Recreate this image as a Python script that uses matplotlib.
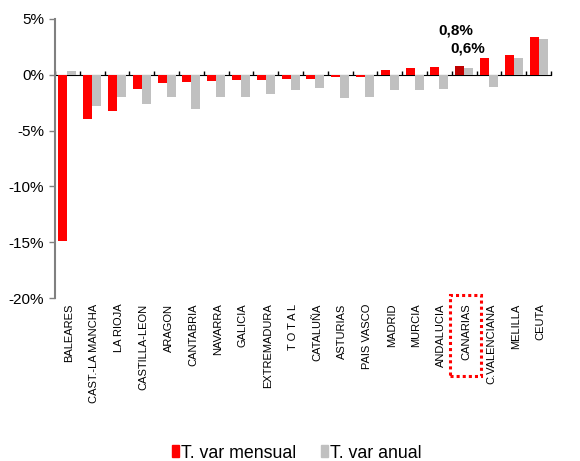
import matplotlib
matplotlib.use("Agg")
import matplotlib.pyplot as plt
import numpy as np
from matplotlib.patches import Rectangle, Patch
from matplotlib.transforms import ScaledTranslation

plt.rcParams['font.family'] = ['Liberation Sans', 'DejaVu Sans']

categories = ["BALEARES", "CAST.-LA MANCHA", "LA RIOJA", "CASTILLA-LEON", "ARAGON",
              "CANTABRIA", "NAVARRA", "GALICIA", "EXTREMADURA", "T O T A L",
              "CATALUÑA", "ASTURIAS", "PAIS VASCO", "MADRID", "MURCIA",
              "ANDALUCIA", "CANARIAS", "C.VALENCIANA", "MELILLA", "CEUTA"]
mensual = [-14.9, -4.0, -3.2, -1.3, -0.73, -0.67, -0.58, -0.5, -0.47, -0.4,
           -0.37, -0.22, -0.16, 0.43, 0.64, 0.73, 0.8, 1.5, 1.8, 3.42]
anual = [0.3, -2.8, -1.95, -2.6, -2.0, -3.1, -2.0, -2.0, -1.75, -1.4,
         -1.2, -2.1, -2.0, -1.36, -1.39, -1.3, 0.6, -1.06, 1.54, 3.18]
yticks = [5, 0, -5, -10, -15, -20]
highlight = "CANARIAS"

fig = plt.figure(figsize=(5.8, 4.61), dpi=100)
ax = fig.add_axes([55/580, 1-298/461, 496/580, 279/461])

x = np.arange(len(categories))
w = 0.36
hi = categories.index(highlight)
red_colors = ['#C00000' if i == hi else '#FF0000' for i in range(len(categories))]
ax.bar(x - w/2, mensual, w, color=red_colors, label='T. var mensual', zorder=2)
ax.bar(x + w/2, anual, w, color='#C0C0C0', label='T. var anual', zorder=2)

ax.set_xlim(-0.5, len(categories) - 0.5)
ax.set_ylim(-20, 5)
ax.set_yticks(yticks)
ax.set_yticklabels([f"{v}%" for v in yticks], fontsize=11)
ax.tick_params(axis='y', length=4, color='#808080', pad=4, width=1)

for s in ['top', 'right', 'bottom']:
    ax.spines[s].set_visible(False)
ax.spines['left'].set_color('#808080')
ax.spines['left'].set_linewidth(1.5)

ax.set_xticks(x)
ax.set_xticklabels(categories, rotation=90, fontsize=8, va='top', ha='center')
ax.tick_params(axis='x', length=0, pad=4)
shift = ScaledTranslation(2/100, 0, fig.dpi_scale_trans)
for lab in ax.get_xticklabels():
    lab.set_transform(lab.get_transform() + shift)

sec = ax.secondary_xaxis(0.8)
sec.set_xticks(np.arange(len(categories) + 1) - 0.5)
sec.set_xticklabels([])
sec.tick_params(axis='x', direction='out', length=3, color='black', width=1)
sec.spines['bottom'].set_color('black')
sec.spines['bottom'].set_linewidth(1.2)
sec.spines['bottom'].set_zorder(3)

ax.annotate("0,8%", xy=(hi - w/2, mensual[hi]), xytext=(-3, 25.5), textcoords='offset points',
            ha='center', va='center', fontsize=11, fontweight='bold')
ax.annotate("0,6%", xy=(hi + w/2, anual[hi]), xytext=(-1, 14), textcoords='offset points',
            ha='center', va='center', fontsize=11, fontweight='bold')

rect = Rectangle((449.5/580, 1-375.8/461), 31/580, 80.3/461, transform=fig.transFigure,
                 fill=False, edgecolor='#FF0000', linestyle=(0, (1, 1)), linewidth=2.2)
fig.add_artist(rect)

handles = [Patch(color='#FF0000', label='T. var mensual'),
           Patch(color='#C0C0C0', label='T. var anual')]
fig.legend(handles=handles, loc='center', bbox_to_anchor=(297/580, 1-453/461), ncol=2,
           frameon=False, fontsize=12.8, handlelength=0.39, handleheight=0.62,
           handletextpad=0.12, columnspacing=1.39, borderpad=0.2)

fig.savefig("out.png", dpi=100)
